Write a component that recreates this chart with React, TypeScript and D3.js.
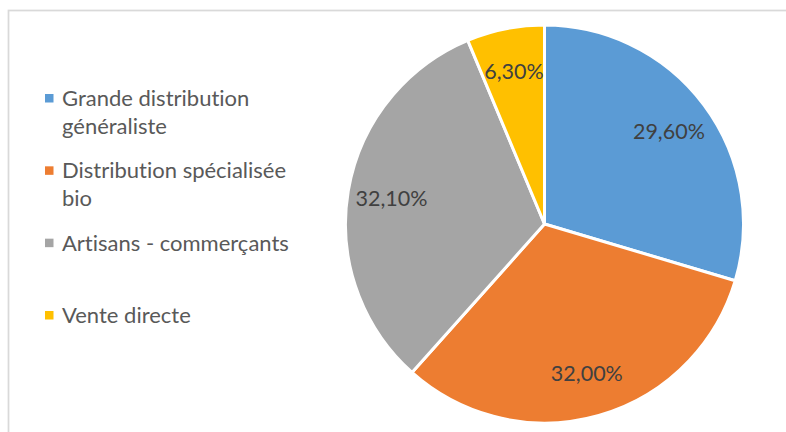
import React from "react";
import * as d3 from "d3";

const width = 786;
const height = 432;

// chart data
const categories = [
  "Grande distribution généraliste",
  "Distribution spécialisée bio",
  "Artisans - commerçants",
  "Vente directe",
];
const legendLines = [
  ["Grande distribution", "généraliste"],
  ["Distribution spécialisée", "bio"],
  ["Artisans - commerçants"],
  ["Vente directe"],
];
const shares = [29.6, 32.0, 32.1, 6.3];
const colors = ["#5B9BD5", "#ED7D31", "#A5A5A5", "#FFC000"];

const center = { x: 544.5, y: 224 };
const radius = 199;
const font = "Lato, 'Open Sans', sans-serif";
const noLig = { fontVariantLigatures: "none" as const, fontFeatureSettings: "'liga' 0" };

const fmt = (v: number) => v.toFixed(2).replace(".", ",") + "%";

export default function App() {
  const pie = d3
    .pie<number>()
    .sort(null)
    .value((d) => d);
  const arcs = pie(shares);

  const arc = d3.arc<d3.PieArcDatum<number>>().innerRadius(0).outerRadius(radius);
  const labelArc = d3
    .arc<d3.PieArcDatum<number>>()
    .innerRadius(radius * 0.78)
    .outerRadius(radius * 0.78);

  // legend rows are spread evenly, first line of each entry aligned
  const legendY = d3.scaleLinear().domain([0, 3]).range([106, 323]);

  return (
    <svg
      width={width}
      height={height}
      style={{ position: "absolute", left: 0, top: 0, background: "#fff" }}
    >
      <rect x={8.5} y={10.5} width={width + 10} height={height + 10} fill="#fff" stroke="#d9d9d9" strokeWidth={1.75} />

      <g transform={`translate(${center.x},${center.y})`}>
        {arcs.map((a, i) => (
          <path key={categories[i]} d={arc(a) || ""} fill={colors[i]} stroke="#fff" strokeWidth={3} strokeLinejoin="round" />
        ))}
        {arcs.map((a, i) => {
          const [lx, ly] = labelArc.centroid(a);
          return (
            <text
              key={"l" + i}
              x={lx}
              y={ly}
              dy="0.35em"
              textAnchor="middle"
              fontFamily={font}
              fontSize={21.5}
              fill="#404040"
              style={noLig}
            >
              {fmt(shares[i])}
            </text>
          );
        })}
      </g>

      <g>
        {legendLines.map((lines, i) => {
          const y0 = legendY(i);
          return (
            <g key={categories[i]}>
              <rect x={45} y={y0 - 12} width={8.5} height={8.5} fill={colors[i]} />
              {lines.map((t, j) => (
                <text key={j} x={62} y={y0 + j * 28} fontFamily={font} fontSize={22} fill="#595959" style={noLig}>
                  {t}
                </text>
              ))}
            </g>
          );
        })}
      </g>
    </svg>
  );
}
